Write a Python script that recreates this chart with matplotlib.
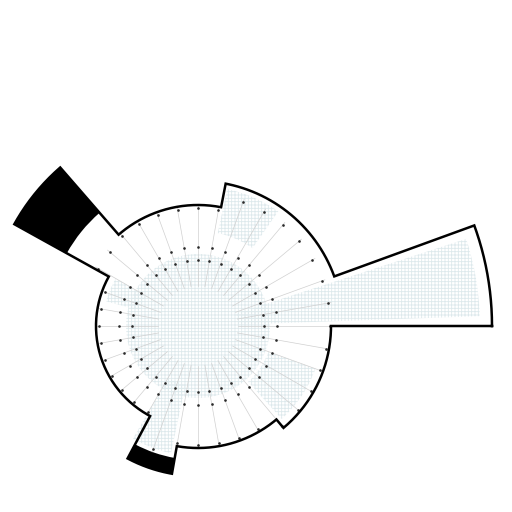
import numpy as np
import matplotlib
matplotlib.use('Agg')
import matplotlib.pyplot as plt

# sector boundaries (degrees) and sector values
edges = [0, 20, 79, 131, 151, 242, 260, 310, 360]
base_vals = [294, 145, 121, 150, 102, 134, 122, 133]
dark_vals = [0, 0, 0, 60, 0, 16, 0, 0]

# light textured areas (theta start, theta end, r inner, r outer)
tex_t0 = [0, 2, 55, 240, 312, 150]
tex_t1 = [360, 18, 78, 258, 340, 165]
tex_r0 = [0, 40, 95, 60, 75, 60]
tex_r1 = [72, 282, 140, 130, 125, 95]

grid_angles = np.arange(0, 360, 10)
dot_rings = [66, 79]

fig = plt.figure(figsize=(5.12, 5.12), dpi=100)
cx, cy, rpx = 198, 512 - 326, 300
ax = fig.add_axes([(cx - rpx) / 512, (cy - rpx) / 512, 2 * rpx / 512, 2 * rpx / 512],
                  projection='polar')
ax.set_ylim(0, 300)
ax.set_axis_off()

th0 = np.radians(edges[:-1])
widths = np.radians(np.diff(edges))
tops = np.array(base_vals) + np.array(dark_vals)

# white bars
ax.bar(th0, base_vals, width=widths, align='edge', color='white', linewidth=0, zorder=1)

# light hatched texture
plt.rcParams['hatch.linewidth'] = 0.6
for t0, t1, r0, r1 in zip(tex_t0, tex_t1, tex_r0, tex_r1):
    ax.bar(np.radians(t0), r1 - r0, width=np.radians(t1 - t0), bottom=r0, align='edge',
           facecolor='none', edgecolor='#dde9ec', hatch='+++++', linewidth=0, zorder=2)

# dark stacked segments
ax.bar(th0, dark_vals, width=widths, bottom=base_vals, align='edge',
       color='black', linewidth=0, zorder=3)

# radial guide lines with dots
def sector_top(a):
    for i in range(len(base_vals)):
        if edges[i] <= a < edges[i + 1]:
            return base_vals[i]
    return base_vals[-1]

for a in grid_angles:
    r_end = min(sector_top(a), 135)
    if 131 <= a < 151:
        r_end = 118
    t = np.radians(a)
    ax.plot([t, t], [40, r_end], color='#d0d0d0', lw=0.5, zorder=4)
    ax.plot([t] * 3, dot_rings + [r_end - 3], 'o', color='#2a2a2a', ms=1.9,
            markeredgewidth=0, zorder=5)

# outline of the whole shape
th_line, r_line = [], []
for i in range(len(base_vals)):
    arc = np.linspace(np.radians(edges[i]), np.radians(edges[i + 1]), 60)
    th_line.extend(arc)
    r_line.extend([tops[i]] * len(arc))
th_line.append(th_line[0])
r_line.append(r_line[0])
ax.plot(th_line, r_line, color='black', lw=1.8, zorder=6, solid_joinstyle='miter')

fig.savefig('out.png', dpi=100)
